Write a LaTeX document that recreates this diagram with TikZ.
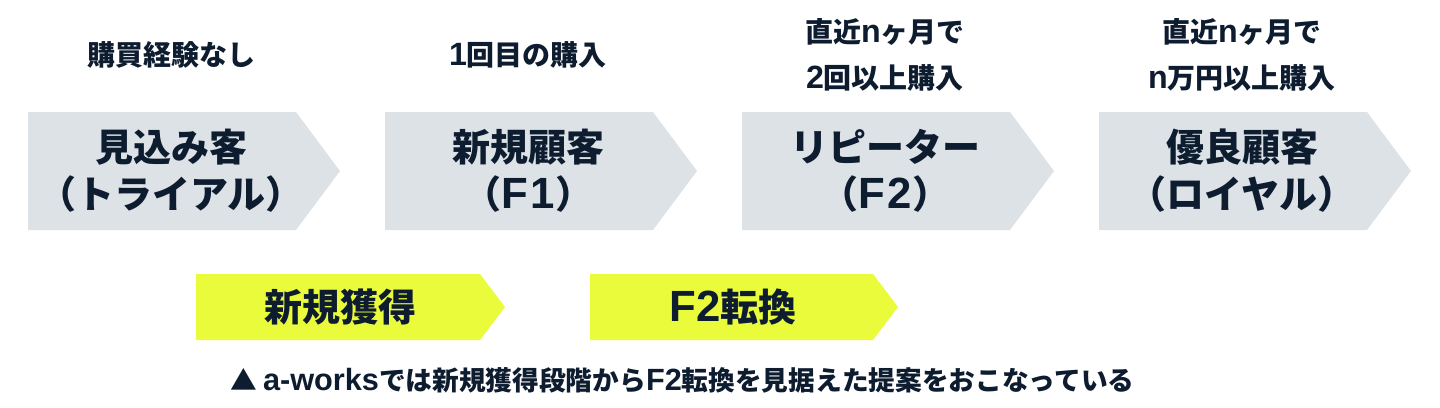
\documentclass[tikz,border=0pt]{standalone}
\usepackage{fontspec}
\setmainfont{Noto Sans CJK JP}[BoldFont={Noto Sans CJK JP Black}]
\newfontfamily\latin{Liberation Sans}[Scale=1.15]
\definecolor{ink}{HTML}{0E1C30}
\definecolor{stagegray}{HTML}{DCE2E6}
\definecolor{lime}{HTML}{E9FB3A}
\tikzset{
  stagetext/.style={font=\bfseries\fontsize{38}{47}\selectfont, text=ink, align=center, inner sep=0pt},
  toplabel/.style={font=\bfseries\fontsize{28}{46}\selectfont, text=ink, align=center, inner sep=0pt},
  limetext/.style={font=\bfseries\fontsize{38}{44}\selectfont, text=ink, inner sep=0pt},
  captiontext/.style={font=\bfseries\fontsize{26.7}{30}\selectfont, text=ink, inner sep=0pt},
}
\newcommand{\stagearrow}[1]{%
  \fill[stagegray] (#1,112) -- ++(268,0) -- ++(44,59) -- ++(-44,59) -- ++(-268,0) -- cycle;}
\begin{document}
\begin{tikzpicture}[x=1pt,y=-1pt]
\useasboundingbox (0,0) rectangle (1440,407);
% grey stage arrows
\stagearrow{28}
\stagearrow{385}
\stagearrow{742}
\stagearrow{1099}
% lime arrows
\fill[lime] (196,274) -- (480,274) -- (505,307) -- (480,340) -- (196,340) -- cycle;
\fill[lime] (590,274) -- (873,274) -- (898,307) -- (873,340) -- (590,340) -- cycle;
% top labels
\node[toplabel] (l1) at (171,55) {購買経験なし};
\node[toplabel] (l2) at (528,55) {{\latin 1}回目の購入};
\node[toplabel] (l3) at (885,55) {直近{\latin n}ヶ月で\\{\latin 2}回以上購入};
\node[toplabel] (l4) at (1242,55) {直近{\latin n}ヶ月で\\{\latin n}万円以上購入};
% stage texts
\node[stagetext] (s1) at (171,171) {見込み客\\（トライアル）};
\node[stagetext] (s2) at (528,171) {新規顧客\\（{\latin F\kern3pt 1}）};
\node[stagetext] (s3) at (885,171) {リピーター\\（{\latin F\kern3pt 2}）};
\node[stagetext] (s4) at (1242,171) {優良顧客\\（ロイヤル）};
% lime texts
\node[limetext] (g1) at (340,307) {新規獲得};
\node[limetext] (g2) at (733,307) {{\latin F2}転換};
% caption
\node[captiontext, anchor=west] (cap) at (230,380) {▲ {\latin a-works}では新規獲得段階から{\latin F2}転換を見据えた提案をおこなっている};
\end{tikzpicture}
\end{document}
